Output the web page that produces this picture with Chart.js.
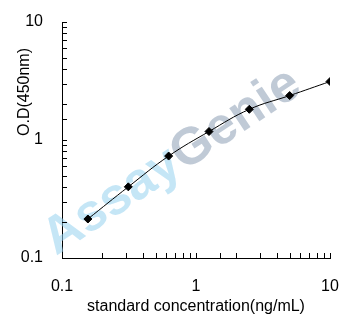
<!DOCTYPE html>
<html>
<head>
<meta charset="utf-8">
<script src="https://cdn.jsdelivr.net/npm/chart.js@4/dist/chart.umd.min.js"></script>
<style>
  html, body { margin: 0; padding: 0; background: #fff; }
  #wrap { width: 354px; height: 323px; }
</style>
</head>
<body>
<div id="wrap"><canvas id="stdChart" width="354" height="323"></canvas></div>
<script>
// standard curve, log-log
const concentrations = [0.156, 0.3125, 0.625, 1.25, 2.5, 5, 10];
const odValues = [0.214, 0.401, 0.731, 1.18, 1.82, 2.38, 3.13];
const majorTicks = [0.1, 1, 10];
const xTitle = "standard concentration(ng/mL)";
const yTitle = "O.D(450nm)";
const watermark = ["Assay", "Genie"];

const FONT = "Arial, 'Liberation Sans', sans-serif";

function isMajor(v) {
  return majorTicks.some(m => Math.abs(v - m) < m * 1e-6);
}

// inward tick marks, y title and watermark
const extras = {
  id: "extras",
  beforeDatasetsDraw(chart) {
    const ctx = chart.ctx;
    ctx.save();
    ctx.translate(56, 256);
    ctx.rotate(-0.585);
    ctx.font = "bold 52px " + FONT;
    ctx.textBaseline = "alphabetic";
    ctx.fillStyle = "rgba(150, 210, 238, 0.55)";
    ctx.fillText(watermark[0], 0, 0);
    const w = ctx.measureText(watermark[0]).width;
    ctx.fillStyle = "rgba(140, 158, 180, 0.55)";
    ctx.fillText(watermark[1], w, 0);
    ctx.restore();
  },
  afterDraw(chart) {
    const ctx = chart.ctx;
    const { left, bottom } = chart.chartArea;
    const xs = chart.scales.x, ys = chart.scales.y;
    ctx.save();
    ctx.strokeStyle = "#000";
    ctx.lineWidth = 1;
    ctx.beginPath();
    xs.ticks.forEach(t => {
      const px = Math.round(xs.getPixelForValue(t.value)) + 0.5;
      ctx.moveTo(px, bottom);
      ctx.lineTo(px, bottom - 5);
    });
    ys.ticks.forEach(t => {
      const py = Math.round(ys.getPixelForValue(t.value)) + 0.5;
      ctx.moveTo(left, py);
      ctx.lineTo(left + 5, py);
    });
    ctx.stroke();

    ctx.translate(25, 92);
    ctx.rotate(-Math.PI / 2);
    ctx.font = "16px " + FONT;
    ctx.fillStyle = "#000";
    ctx.textAlign = "center";
    ctx.textBaseline = "middle";
    ctx.fillText(yTitle, 0, 0);
    ctx.restore();
  }
};

const ctx = document.getElementById("stdChart").getContext("2d");
new Chart(ctx, {
  type: "line",
  data: {
    datasets: [{
      data: concentrations.map((c, i) => ({ x: c, y: odValues[i] })),
      borderColor: "#000",
      backgroundColor: "#000",
      borderWidth: 1,
      tension: 0.4,
      pointStyle: "rectRot",
      pointRadius: 4,
      pointHoverRadius: 4
    }]
  },
  options: {
    responsive: false,
    animation: false,
    layout: { padding: { left: 0, top: 22, right: 24, bottom: 0 } },
    plugins: { legend: { display: false }, tooltip: { enabled: false } },
    scales: {
      x: {
        type: "logarithmic",
        min: 0.1,
        max: 10,
        afterFit: s => { s.height = 65; s.paddingLeft = 0; s.paddingRight = 0; },
        grid: { display: true, drawOnChartArea: false, drawTicks: false },
        border: { display: true, color: "#000", width: 1 },
        ticks: {
          autoSkip: false,
          maxRotation: 0,
          padding: 19,
          color: "#000",
          font: { family: FONT, size: 16 },
          callback: v => isMajor(v) ? String(v) : ""
        },
        title: {
          display: true,
          text: xTitle,
          color: "#000",
          font: { family: FONT, size: 16 },
          padding: { top: 0, bottom: 7 }
        }
      },
      y: {
        type: "logarithmic",
        min: 0.1,
        max: 10,
        afterFit: s => { s.width = 62; s.paddingTop = 0; s.paddingBottom = 0; },
        grid: { display: true, drawOnChartArea: false, drawTicks: false },
        border: { display: true, color: "#000", width: 1 },
        ticks: {
          autoSkip: false,
          padding: 19,
          color: "#000",
          font: { family: FONT, size: 16 },
          callback: v => isMajor(v) ? String(v) : ""
        }
      }
    }
  },
  plugins: [extras]
});
</script>
</body>
</html>
